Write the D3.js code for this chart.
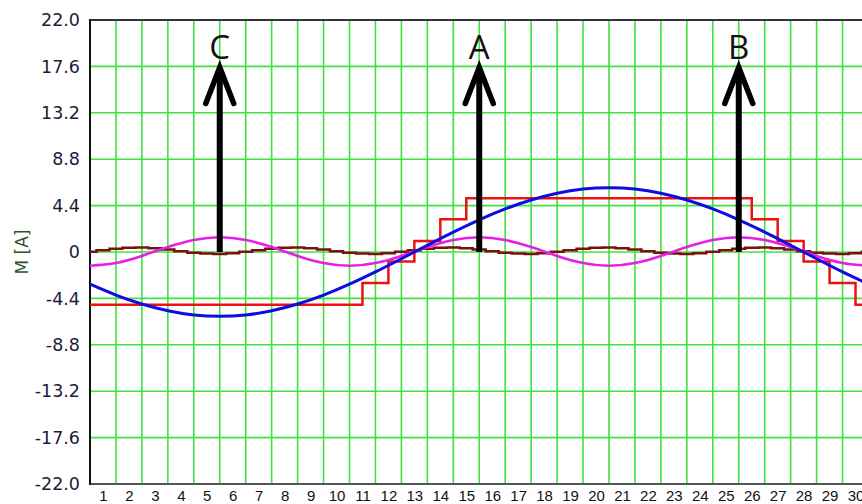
<!DOCTYPE html>
<html>
<head>
<meta charset="utf-8">
<script src="https://cdn.jsdelivr.net/npm/d3@7/dist/d3.min.js"></script>
<style>
  html, body { margin: 0; padding: 0; background: #ffffff; overflow: hidden; }
  svg { display: block; }
</style>
</head>
<body>
<svg id="chart" width="862" height="504"></svg>
<script>
// ---------------- data ----------------
const slotLabels = d3.range(1, 31);                 // x tick labels 1..30
const yTicks = [22, 17.6, 13.2, 8.8, 4.4, 0, -4.4, -8.8, -13.2, -17.6, -22];
const yTitle = "M [A]";

// positions of grid lines (between slot labels)
const gridX = [0.5,1.5,2.5,3.5,4.5,5.5,6.5,7.5,8.5,9.5,10.5,11.5,12.5,13.5,14.5,15.5,16.5,17.5,18.5,19.5,20.5,21.5,22.5,23.5,24.5,25.5,26.5,27.5,28.5,29.5,30.5];

// blue: fundamental (sampled at grid lines)
const blueValues = [-3.05,-4.08,-4.93,-5.57,-5.97,-6.10,-5.97,-5.57,-4.93,-4.08,-3.05,-1.89,-0.64,0.64,1.89,3.05,4.08,4.93,5.57,5.97,6.10,5.97,5.57,4.93,4.08,3.05,1.89,0.64,-0.64,-1.89,-3.05];

// magenta: third harmonic (sampled at grid lines)
const magentaValues = [-1.30,-1.04,-0.37,0.47,1.14,1.40,1.14,0.47,-0.37,-1.04,-1.30,-1.04,-0.37,0.47,1.14,1.40,1.14,0.47,-0.37,-1.04,-1.30,-1.04,-0.37,0.47,1.14,1.40,1.14,0.47,-0.37,-1.04,-1.30];

// red: stepped MMF (breakpoints and levels)
const redX      = [0.5, 11, 12, 13, 14, 15, 26, 27, 28, 29, 30, 30.5];
const redValues = [-5.00, -2.95, -0.90, 1.05, 3.10, 5.10, 3.10, 1.05, -0.90, -2.95, -5.00, -5.00];

// brown: small ripple (sampled every half slot)
const brownX = d3.range(0.5, 30.51, 0.5);
const brownValues = [
  0.02,0.17,0.31,0.40,0.42,0.36,0.23,0.08,-0.06,-0.15,-0.18,-0.11,
  0.02,0.17,0.31,0.40,0.42,0.36,0.23,0.08,-0.06,-0.15,-0.18,-0.11,
  0.02,0.17,0.31,0.40,0.42,0.36,0.23,0.08,-0.06,-0.15,-0.18,-0.11,
  0.02,0.17,0.31,0.40,0.42,0.36,0.23,0.08,-0.06,-0.15,-0.18,-0.11,
  0.02,0.17,0.31,0.40,0.42,0.36,0.23,0.08,-0.06,-0.15,-0.18,-0.11,
  0.02];

// arrows
const arrowX = [5.5, 15.5, 25.5];
const arrowLabels = ["C", "A", "B"];
const arrowTip = 17.6;

// ---------------- layout ----------------
const svg = d3.select("#chart");
const pL = 90, pT = 20, pB = 484, pR = 868.5;

const x = d3.scaleLinear().domain([0.5, 30.5]).range([pL, pR]);
const y = d3.scaleLinear().domain([-22, 22]).range([pB, pT]);

svg.append("defs").append("clipPath").attr("id", "plotclip")
  .append("rect").attr("x", pL).attr("y", pT).attr("width", pR - pL).attr("height", pB - pT);

// grid
const grid = svg.append("g");
grid.selectAll("line.v").data(gridX.slice(1, -1)).enter().append("line")
  .attr("x1", d => x(d)).attr("x2", d => x(d))
  .attr("y1", pT).attr("y2", pB)
  .attr("stroke", "#3fe23f").attr("stroke-width", 1.6);
grid.selectAll("line.h").data(yTicks.filter(d => Math.abs(d) < 22)).enter().append("line")
  .attr("x1", pL).attr("x2", pR)
  .attr("y1", d => y(d)).attr("y2", d => y(d))
  .attr("stroke", "#3fe23f").attr("stroke-width", 1.6);

// frame
svg.append("line").attr("x1", pL).attr("x2", pR).attr("y1", pT).attr("y2", pT)
  .attr("stroke", "#333").attr("stroke-width", 2);
svg.append("line").attr("x1", pL).attr("x2", pR).attr("y1", pB).attr("y2", pB)
  .attr("stroke", "#555").attr("stroke-width", 2);
svg.append("line").attr("x1", pL).attr("x2", pL).attr("y1", pT - 1).attr("y2", pB + 1)
  .attr("stroke", "#111").attr("stroke-width", 2);

// axes
const yAxis = svg.append("g").attr("transform", `translate(${pL},0)`)
  .call(d3.axisLeft(y).tickValues(yTicks).tickSize(0).tickPadding(10)
    .tickFormat(d => d === 0 ? "0" : d.toFixed(1)));
yAxis.select(".domain").remove();
yAxis.selectAll("text").attr("font-family", "'DejaVu Sans', sans-serif")
  .attr("font-size", 17.5).attr("fill", "#1c1c38");

const xAxis = svg.append("g").attr("transform", `translate(0,${pB})`)
  .call(d3.axisBottom(x).tickValues(slotLabels).tickSize(0).tickFormat(d => String(d)));
xAxis.select(".domain").remove();
xAxis.selectAll("text").attr("y", 16.5).attr("dy", 0)
  .attr("font-family", "'Liberation Sans Narrow', 'Liberation Sans', sans-serif")
  .attr("font-size", 15).attr("fill", "#111");

svg.append("text")
  .attr("transform", `translate(28,${y(0)}) rotate(-90)`)
  .attr("text-anchor", "middle")
  .attr("font-family", "'DejaVu Sans', sans-serif").attr("font-size", 17)
  .attr("fill", "#2f5524").text(yTitle);

// series
const plot = svg.append("g").attr("clip-path", "url(#plotclip)");
const line = (curve) => d3.line().x(d => x(d[0])).y(d => y(d[1])).curve(curve);

plot.append("path").datum(d3.zip(redX, redValues))
  .attr("d", line(d3.curveStepAfter)).attr("fill", "none")
  .attr("stroke", "#ec1212").attr("stroke-width", 2.5);

plot.append("path").datum(d3.zip(brownX, brownValues))
  .attr("d", line(d3.curveStep)).attr("fill", "none")
  .attr("stroke", "#7c1010").attr("stroke-width", 2.5);

plot.append("path").datum(d3.zip(gridX, magentaValues))
  .attr("d", line(d3.curveNatural)).attr("fill", "none")
  .attr("stroke", "#e61fe6").attr("stroke-width", 2.6);

plot.append("path").datum(d3.zip(gridX, blueValues))
  .attr("d", line(d3.curveNatural)).attr("fill", "none")
  .attr("stroke", "#0d0de0").attr("stroke-width", 3);

// arrows
const arrows = svg.append("g");
arrowX.forEach((ax, i) => {
  const px = x(ax), tipY = y(arrowTip) + 1;
  arrows.append("line").attr("x1", px).attr("x2", px)
    .attr("y1", y(0)).attr("y2", tipY + 3)
    .attr("stroke", "#000").attr("stroke-width", 6);
  arrows.append("path")
    .attr("d", `M${px - 14},${tipY + 36} L${px},${tipY} L${px + 14},${tipY + 36}`)
    .attr("fill", "none").attr("stroke", "#000").attr("stroke-width", 5.5)
    .attr("stroke-linejoin", "miter").attr("stroke-linecap", "round");
  arrows.append("text").attr("x", px).attr("y", 59)
    .attr("text-anchor", "middle")
    .attr("font-family", "'Open Sans', 'Noto Sans', sans-serif")
    .attr("font-size", 33).attr("fill", "#111").text(arrowLabels[i]);
});
</script>
</body>
</html>
